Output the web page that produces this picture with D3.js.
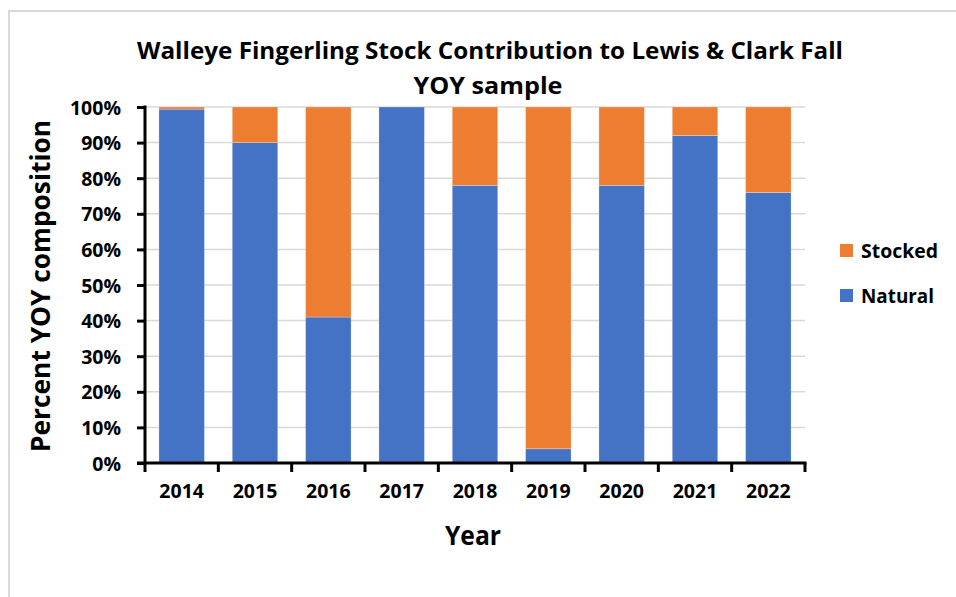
<!DOCTYPE html>
<html><head><meta charset="utf-8">
<script src="https://cdn.jsdelivr.net/npm/d3@7"></script>
<style>body{margin:0;background:#fff}svg{display:block}text{font-family:"Open Sans","Liberation Sans",sans-serif;font-weight:bold;fill:#000}</style>
</head><body><svg id="c" width="956" height="597"></svg>
<script>
const years = ["2014","2015","2016","2017","2018","2019","2020","2021","2022"];
const natural = [99.4, 90, 41, 100, 78, 4, 78, 92, 76];
const stocked = [0.6, 10, 59, 0, 22, 96, 22, 8, 24];
const seriesNames = ["Natural","Stocked"];
const seriesColors = ["#4472C4","#ED7D31"];
const yTicks = [0,10,20,30,40,50,60,70,80,90,100];

const svg = d3.select("#c");
const W=956,H=597;
svg.append("rect").attr("x",9).attr("y",11).attr("width",W).attr("height",H).attr("fill","none").attr("stroke","#d9d9d9").attr("stroke-width",2);

const m={l:145,r:805,t:107,b:463};
const x=d3.scaleBand().domain(years).range([m.l,m.r]).paddingInner(0.38).paddingOuter(0.19);
const y=d3.scaleLinear().domain([0,100]).range([m.b,m.t]);

svg.append("g").selectAll("line").data(yTicks.filter(d=>d>0)).join("line")
 .attr("x1",m.l).attr("x2",m.r).attr("y1",d=>y(d)).attr("y2",d=>y(d))
 .attr("stroke","#d9d9d9").attr("stroke-width",1.5);

const table = years.map((yr,i)=>({year:yr,Natural:natural[i],Stocked:stocked[i]}));
const stack=d3.stack().keys(seriesNames)(table);
svg.append("g").selectAll("g").data(stack).join("g").attr("fill",(d,i)=>seriesColors[i])
 .selectAll("rect").data(d=>d).join("rect")
 .attr("x",d=>x(d.data.year)).attr("width",x.bandwidth())
 .attr("y",d=>y(d[1])).attr("height",d=>y(d[0])-y(d[1]))
 .attr("stroke","#fff").attr("stroke-opacity",0.35).attr("stroke-width",0.75);

const ya=svg.append("g").attr("transform",`translate(${m.l},0)`)
 .call(d3.axisLeft(y).tickValues(yTicks).tickFormat(d=>d+"%").tickSize(8).tickPadding(16));
ya.attr("font-family",null).attr("font-size",null);
ya.select(".domain").attr("stroke","#000").attr("stroke-width",3).attr("d",`M0,${m.b+1.5}V${m.t-1.5}`);
ya.selectAll(".tick line").attr("stroke","#000").attr("stroke-width",3);
ya.selectAll(".tick text").style("font-size","19.5px").attr("dy","0.36em");

const xa=svg.append("g").attr("transform",`translate(0,${m.b})`)
 .call(d3.axisBottom(x).tickSize(0).tickPadding(21));
xa.attr("font-family",null).attr("font-size",null);
xa.select(".domain").attr("stroke","#000").attr("stroke-width",3).attr("d",`M${m.l-8},0H${m.r+1.5}`);
xa.selectAll(".tick text").style("font-size","19.5px");
const bounds=d3.range(years.length+1).map(i=>m.l+i*(m.r-m.l)/years.length);
xa.append("g").selectAll("line").data(bounds).join("line")
 .attr("x1",d=>d).attr("x2",d=>d).attr("y1",0).attr("y2",9).attr("stroke","#000").attr("stroke-width",3);

svg.append("text").attr("x",490).attr("y",59).attr("text-anchor","middle").style("font-size","23px")
 .attr("textLength",706).attr("lengthAdjust","spacingAndGlyphs")
 .text("Walleye Fingerling Stock Contribution to Lewis & Clark Fall");
svg.append("text").attr("x",488).attr("y",94).attr("text-anchor","middle").style("font-size","23px")
 .attr("textLength",149).attr("lengthAdjust","spacingAndGlyphs").text("YOY sample");
svg.append("text").attr("transform","translate(50,286) rotate(-90)").attr("text-anchor","middle")
 .style("font-size","26px").attr("textLength",332).attr("lengthAdjust","spacingAndGlyphs").text("Percent YOY composition");
svg.append("text").attr("x",473).attr("y",545).attr("text-anchor","middle").style("font-size","26px")
 .attr("textLength",56).attr("lengthAdjust","spacingAndGlyphs").text("Year");

const leg=[{n:"Stocked",c:seriesColors[1],y:251,w:77},{n:"Natural",c:seriesColors[0],y:296,w:73}];
const lg=svg.append("g").selectAll("g").data(leg).join("g");
lg.append("rect").attr("x",840).attr("y",d=>d.y-7).attr("width",13).attr("height",13).attr("fill",d=>d.c);
lg.append("text").attr("x",861).attr("y",d=>d.y).attr("dy","0.36em").style("font-size","20px")
 .attr("textLength",d=>d.w).attr("lengthAdjust","spacingAndGlyphs").text(d=>d.n);
</script></body></html>
